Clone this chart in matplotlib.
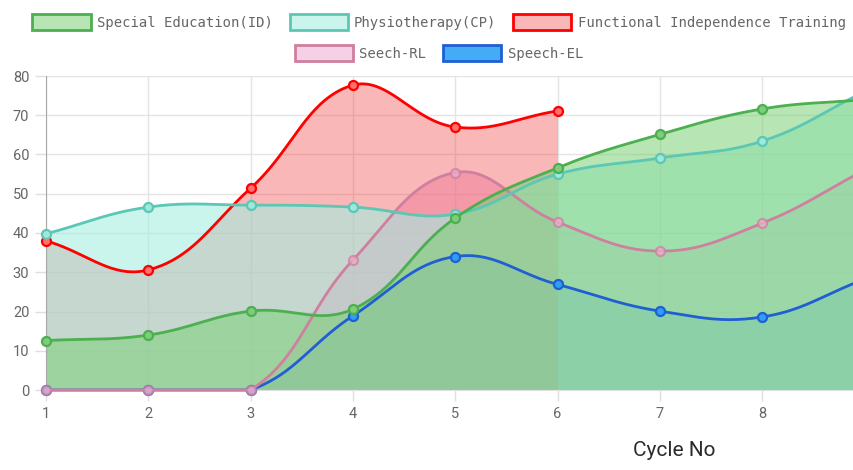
import numpy as np
import matplotlib.pyplot as plt
from matplotlib.patches import Patch

cycles = [1, 2, 3, 4, 5, 6, 7, 8, 9]
tick_labels = ["1", "2", "3", "4", "5", "6", "7", "8", "9"]
labels = ["Special Education(ID)", "Physiotherapy(CP)", "Functional Independence Training",
          "Seech-RL", "Speech-EL"]
special_ed = [12.6, 14.0, 20.1, 20.6, 43.8, 56.6, 65.1, 71.6, 74.0]
physio = [39.8, 46.6, 47.1, 46.6, 44.8, 55.0, 59.1, 63.4, 76.0]
functional = [38.0, 30.6, 51.4, 77.7, 67.0, 71.1, None, None, None]
speech_rl = [0, 0, 0, 33.1, 55.4, 42.8, 35.4, 42.5, 56.0]
speech_el = [0, 0, 0, 18.9, 34.0, 26.9, 20.1, 18.6, 28.2]

line_colors = ["#4caf50", "#5cc7b4", "#ff0000", "#cf7f9f", "#1f5fd3"]
fill_colors = [(120 / 255, 208 / 255, 114 / 255, 0.53), (163 / 255, 238 / 255, 226 / 255, 0.59),
               (240 / 255, 60 / 255, 60 / 255, 0.37), (240 / 255, 170 / 255, 210 / 255, 0.55),
               (58 / 255, 168 / 255, 245 / 255, 0.95)]
point_faces = ["#80cc7c", "#9fe8dc", "#ff7070", "#eab0cc", "#2f9ff5"]
point_alpha = [1.0, 1.0, 1.0, 0.75, 1.0]

YMAX = 80
SX, SY = 102.3, 3.925  # px per unit, for chart.js-like spline tension


def spline(xs, ys, tension=0.4, n=40):
    px = np.array(xs, float) * SX
    py = np.array(ys, float) * SY
    m = len(px)
    ctrl = []
    for i in range(m):
        p0 = (px[max(i - 1, 0)], py[max(i - 1, 0)])
        p1 = (px[i], py[i])
        p2 = (px[min(i + 1, m - 1)], py[min(i + 1, m - 1)])
        d01 = np.hypot(p1[0] - p0[0], p1[1] - p0[1])
        d12 = np.hypot(p2[0] - p1[0], p2[1] - p1[1])
        s = d01 + d12
        fa = tension * (d01 / s if s else 0)
        fb = tension * (d12 / s if s else 0)
        prev = [p1[0] - fa * (p2[0] - p0[0]), p1[1] - fa * (p2[1] - p0[1])]
        nxt = [p1[0] + fb * (p2[0] - p0[0]), p1[1] + fb * (p2[1] - p0[1])]
        prev[1] = min(max(prev[1], 0), YMAX * SY)
        nxt[1] = min(max(nxt[1], 0), YMAX * SY)
        ctrl.append((prev, nxt))
    t = np.linspace(0, 1, n)[:, None]
    out = []
    for i in range(m - 1):
        a = np.array([px[i], py[i]])
        b = np.array(ctrl[i][1])
        c = np.array(ctrl[i + 1][0])
        d = np.array([px[i + 1], py[i + 1]])
        out.append((1 - t) ** 3 * a + 3 * (1 - t) ** 2 * t * b + 3 * (1 - t) * t ** 2 * c + t ** 3 * d)
    pts = np.vstack(out)
    return pts[:, 0] / SX, pts[:, 1] / SY


fig = plt.figure(figsize=(8.54, 4.70), dpi=100)
ax = fig.add_axes([46 / 854, 1 - 390 / 470, 1 - 46 / 854, 314 / 470])

series = [special_ed, physio, functional, speech_rl, speech_el]
curves = []
for vals in series:
    xs = [c for c, v in zip(cycles, vals) if v is not None]
    ys = [v for v in vals if v is not None]
    curves.append((xs, ys) + spline(xs, ys))

# all fills first (last dataset at the bottom), then lines and points
for k in range(len(series) - 1, -1, -1):
    xs, ys, cx, cy = curves[k]
    ax.fill_between(cx, cy, 0, color=fill_colors[k], lw=0, zorder=2 + (4 - k) * 0.1)
for k in range(len(series) - 1, -1, -1):
    xs, ys, cx, cy = curves[k]
    z = 5 + (4 - k)
    ax.plot(cx, cy, color=line_colors[k], lw=2.0, zorder=z, clip_on=False,
            solid_capstyle="round")
    ax.plot(xs, ys, "o", ms=6.5, mfc=point_faces[k], mec=line_colors[k], mew=1.6,
            zorder=z + 0.5, clip_on=False, alpha=point_alpha[k])

ax.set_xticks(cycles)
ax.set_xticklabels(tick_labels)
ax.set_yticks(range(0, 81, 10))
ax.set_xlim(1, 1 + 808 / SX)
ax.set_ylim(0, YMAX)
ax.grid(True, color="#e4e4e4", lw=1, zorder=0)
ax.set_axisbelow(True)
for s in ["top", "right"]:
    ax.spines[s].set_visible(False)
ax.spines["left"].set_color("#a8a8a8")
ax.spines["bottom"].set_color("#e0e0e0")
ax.tick_params(length=8, width=1, color="#e0e0e0", labelcolor="#666666", labelsize=10.5,
               pad=4)
for lab in ax.get_xticklabels() + ax.get_yticklabels():
    lab.set_fontfamily("Roboto")

fig.text(674 / 854, 1 - 451 / 470, "Cycle No", ha="center", va="center",
         fontsize=15, family="Roboto", color="#2a2a2a")

handles = [Patch(facecolor=fill_colors[k], edgecolor=line_colors[k], lw=2)
           for k in range(len(labels))]
leg_kw = dict(loc="center", frameon=False, handlelength=4.18, handleheight=1.3,
              handletextpad=0.45, columnspacing=1.22, borderpad=0,
              prop={"family": "DejaVu Sans Mono", "size": 10}, labelcolor="#666666")
fig.legend(handles[:3], labels[:3], ncol=3, bbox_to_anchor=(439 / 854, 1 - 22 / 470), **leg_kw)
fig.legend(handles[3:], labels[3:], ncol=2, bbox_to_anchor=(439 / 854, 1 - 53 / 470), **leg_kw)

fig.savefig("out.png", dpi=100)
